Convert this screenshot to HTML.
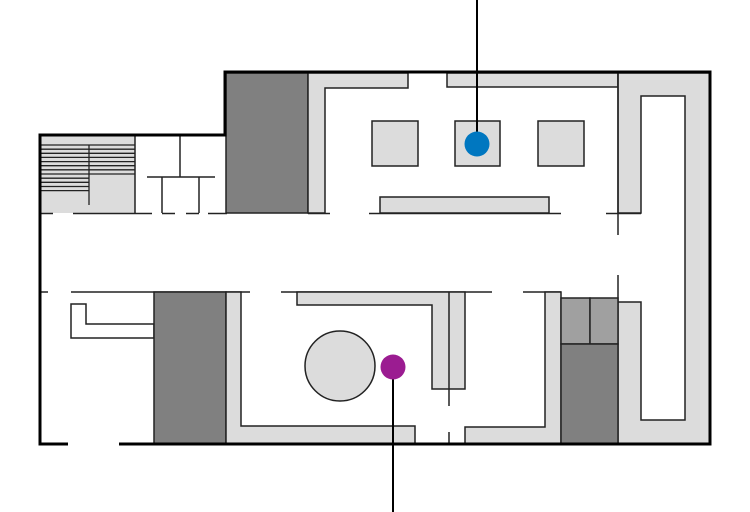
<!DOCTYPE html>
<html><head><meta charset="utf-8"><style>html,body{margin:0;padding:0;background:#fff}svg{display:block}</style></head>
<body>
<svg width="750" height="512" viewBox="0 0 750 512" xmlns="http://www.w3.org/2000/svg">
<g stroke="#222" stroke-width="1.5">
<!-- stair area -->
<rect x="41" y="136" width="94" height="77" fill="#dcdcdc" stroke="none"/>
<g stroke="#222" stroke-width="1.3">
<line x1="41" y1="145" x2="135" y2="145"/><line x1="41" y1="149.2" x2="135" y2="149.2"/>
<line x1="41" y1="153.3" x2="135" y2="153.3"/><line x1="41" y1="157.4" x2="135" y2="157.4"/>
<line x1="41" y1="161.6" x2="135" y2="161.6"/><line x1="41" y1="165.7" x2="135" y2="165.7"/>
<line x1="41" y1="169.8" x2="135" y2="169.8"/><line x1="41" y1="174" x2="135" y2="174"/>
<line x1="41" y1="178.2" x2="89" y2="178.2"/><line x1="41" y1="182.3" x2="89" y2="182.3"/>
<line x1="41" y1="186.5" x2="89" y2="186.5"/><line x1="41" y1="190.6" x2="89" y2="190.6"/>
<line x1="89" y1="145" x2="89" y2="205"/>
</g>
<line x1="135" y1="136" x2="135" y2="213"/>
<line x1="147" y1="177" x2="215" y2="177"/><line x1="180" y1="136" x2="180" y2="177"/>
<line x1="162" y1="177" x2="162" y2="213"/><line x1="199" y1="177" x2="199" y2="213"/>
<!-- y=213 walls -->
<line x1="41" y1="213.5" x2="53" y2="213.5"/><line x1="73" y1="213.5" x2="152" y2="213.5"/>
<line x1="162" y1="213.5" x2="175" y2="213.5"/><line x1="186" y1="213.5" x2="199" y2="213.5"/>
<line x1="208" y1="213.5" x2="227" y2="213.5"/>
<!-- dark upper -->
<rect x="226" y="73" width="82" height="140" fill="#808080"/>
<polygon points="308,73 408,73 408,88 325,88 325,213 308,213" fill="#dcdcdc"/>
<polygon points="447,73 618,73 618,87 447,87" fill="#dcdcdc"/>
<line x1="308" y1="213.5" x2="330" y2="213.5"/>
<rect x="372" y="121" width="46" height="45" fill="#dcdcdc"/>
<rect x="455" y="121" width="45" height="45" fill="#dcdcdc"/>
<rect x="538" y="121" width="46" height="45" fill="#dcdcdc"/>
<rect x="380" y="197" width="169" height="16" fill="#dcdcdc"/>
<line x1="369" y1="213.5" x2="561" y2="213.5"/>
<line x1="606" y1="213.5" x2="641" y2="213.5"/>
<!-- right column -->
<path d="M618,73 H710 V444 H618 V302 H641 V420 H685 V96 H641 V213 H618 Z" fill="#dcdcdc"/>
<line x1="618" y1="73" x2="618" y2="235"/><line x1="618" y1="275" x2="618" y2="302"/>
<!-- y=292 walls -->
<line x1="41" y1="292" x2="48" y2="292"/><line x1="71" y1="292" x2="250" y2="292"/>
<line x1="281" y1="292" x2="492" y2="292"/><line x1="523" y1="292" x2="561" y2="292"/>
<polygon points="71,304 86,304 86,324 154,324 154,338 71,338" fill="#fff"/>
<rect x="154" y="292" width="72" height="152" fill="#808080"/>
<polygon points="226,292 241,292 241,426 415,426 415,444 226,444" fill="#dcdcdc"/>
<polygon points="297,292 465,292 465,389 432,389 432,305 297,305" fill="#dcdcdc"/>
<line x1="449" y1="292" x2="449" y2="406"/><line x1="449" y1="432" x2="449" y2="444"/>
<polygon points="545,292 561,292 561,444 465,444 465,427 545,427" fill="#dcdcdc"/>
<rect x="561" y="298" width="29" height="46" fill="#a0a0a0"/>
<rect x="590" y="298" width="28" height="46" fill="#a0a0a0"/>
<rect x="561" y="344" width="57" height="100" fill="#808080"/>
<circle cx="340" cy="366" r="35" fill="#dcdcdc"/>
</g>
<!-- outer walls -->
<g stroke="#000" stroke-width="3" fill="none">
<polyline points="68,444 40,444 40,135 225,135 225,72 710,72 710,444 119,444"/>
</g>
<line x1="477" y1="0" x2="477" y2="144" stroke="#000" stroke-width="2"/>
<circle cx="477" cy="144" r="12.5" fill="#0077c0"/>
<line x1="393" y1="367" x2="393" y2="512" stroke="#000" stroke-width="2"/>
<circle cx="393" cy="367" r="12.5" fill="#9b1c91"/>
</svg>
</body></html>
